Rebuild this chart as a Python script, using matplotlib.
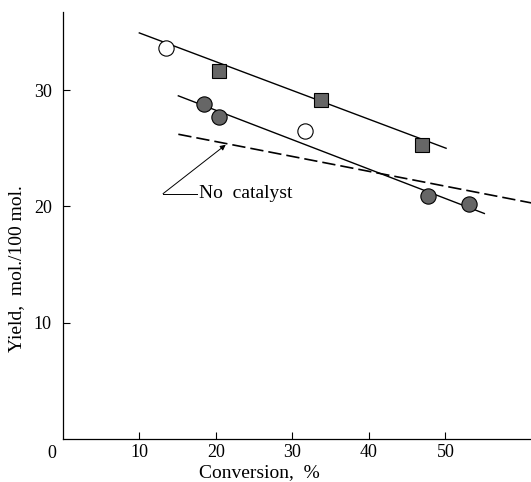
import numpy as np
import matplotlib.pyplot as plt

plt.rcParams['font.family'] = ['Liberation Serif', 'DejaVu Serif']

# open circles
open_x = [13.5, 31.6]
open_y = [33.6, 26.5]
# filled squares
sq_x = [20.4, 33.7, 46.9]
sq_y = [31.6, 29.1, 25.3]
# filled circles
fc_x = [18.4, 20.4, 47.8, 53.1]
fc_y = [28.8, 27.7, 20.9, 20.2]
# fitted lines
upper_x = [10.0, 50.1]
upper_y = [34.9, 25.0]
lower_x = [15.1, 55.1]
lower_y = [29.5, 19.4]
# no catalyst (dashed)
nocat_x = [15.1, 61.3]
nocat_y = [26.2, 20.3]

xticks = [10, 20, 30, 40, 50]
yticks = [10, 20, 30]

fig = plt.figure(figsize=(5.31, 4.82), dpi=100)
ax = fig.add_axes([0.1183, 0.0882, 0.8817, 0.887])

ax.plot(upper_x, upper_y, color='k', lw=1.0)
ax.plot(lower_x, lower_y, color='k', lw=1.0)
ax.plot(nocat_x, nocat_y, color='k', lw=1.2, dashes=(8, 3))

ax.plot(sq_x, sq_y, 's', ms=10, mfc='#666666', mec='k', mew=0.8)
ax.plot(fc_x, fc_y, 'o', ms=11, mfc='#666666', mec='k', mew=0.8)
ax.plot(open_x, open_y, 'o', ms=11, mfc='white', mec='k', mew=0.8)

# "No catalyst" label with elbow leader
ax.plot([17.6, 13.1], [21.1, 21.1], color='k', lw=0.7)
ax.annotate('', xy=(21.3, 25.3), xytext=(13.1, 21.1),
            arrowprops=dict(arrowstyle='-|>', color='k', lw=0.7,
                            mutation_scale=8, shrinkA=0, shrinkB=0))
ax.text(17.8, 21.1, 'No  catalyst', fontsize=14, va='center', ha='left')

ax.set_xlim(0, 61.2)
ax.set_ylim(0, 36.7)
ax.set_xticks(xticks)
ax.set_yticks(yticks)
ax.tick_params(direction='in', length=5, width=0.8, labelsize=13)
ax.tick_params(axis='x', pad=3)
ax.tick_params(axis='y', pad=8)
ax.text(-1.5, -0.5, '0', fontsize=13, ha='center', va='top')

ax.spines['top'].set_visible(False)
ax.spines['right'].set_visible(False)
ax.spines['left'].set_linewidth(0.9)
ax.spines['bottom'].set_linewidth(0.9)

ax.set_xlabel('Conversion,  %', fontsize=14)
ax.xaxis.set_label_coords(0.419, -0.057)
ax.set_ylabel('Yield,  mol./100 mol.', fontsize=14)
ax.yaxis.set_label_coords(-0.081, 0.40)

plt.savefig('out.png', dpi=100)
